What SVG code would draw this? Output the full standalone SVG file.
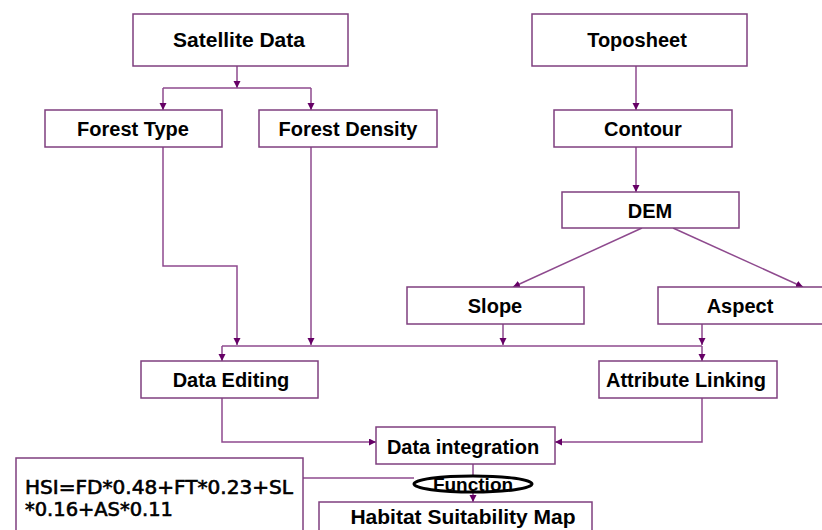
<svg xmlns="http://www.w3.org/2000/svg" width="822" height="530" viewBox="0 0 822 530">
<defs>
<style>
.box{fill:#fff;stroke:#7f3f7f;stroke-width:1.5}
.lbl{font-family:"Liberation Sans",Arial,sans-serif;font-weight:bold;font-size:20px;fill:#000;text-anchor:middle}
.ln{fill:none;stroke:#8e4a8e;stroke-width:1.5}
.arr{marker-end:url(#ah)}
.hsi{font-family:"DejaVu Sans",Tahoma,sans-serif;font-size:19px;fill:#000;stroke:#000;stroke-width:0.6}
</style>
<marker id="ah" markerWidth="8" markerHeight="8" refX="7" refY="3.5" orient="auto" markerUnits="userSpaceOnUse">
<path d="M0,0 L7,3.5 L0,7 z" fill="#660066"/>
</marker>
</defs>
<rect width="822" height="530" fill="#fff"/>
<g id="connectors">
<path class="ln arr" d="M237,66 V88"/>
<path class="ln" d="M163,88 H311"/>
<path class="ln arr" d="M163,88 V110"/>
<path class="ln arr" d="M311,88 V110"/>
<path class="ln arr" d="M636,66 V110"/>
<path class="ln arr" d="M636,147 V192"/>
<path class="ln arr" d="M642,228 L513,287"/>
<path class="ln arr" d="M673,228 L803,287"/>
<path class="ln arr" d="M163,147 V266 H237 V345"/>
<path class="ln arr" d="M311,147 V345"/>
<path class="ln arr" d="M503,324 V345"/>
<path class="ln arr" d="M702,324 V345"/>
<path class="ln" d="M222,346 H702"/>
<path class="ln arr" d="M222,346 V361"/>
<path class="ln arr" d="M702,346 V361"/>
<path class="ln arr" d="M222,398 V442 H376"/>
<path class="ln arr" d="M702,398 V442 H555"/>
<path class="ln" d="M473,464 V477"/>
<path class="ln arr" d="M473,491 V502"/>
<path class="ln" d="M303,478 H414"/>
</g>
<g id="satellite"><rect class="box" x="133" y="14" width="215" height="52"/><text class="lbl" x="239" y="47" style="font-size:21px">Satellite Data</text></g>
<g id="toposheet"><rect class="box" x="532" y="14" width="215" height="52"/><text class="lbl" x="637" y="47">Toposheet</text></g>
<g id="forest-type"><rect class="box" x="45" y="110" width="177" height="37"/><text class="lbl" x="133" y="136">Forest Type</text></g>
<g id="forest-density"><rect class="box" x="259" y="110" width="178" height="37"/><text class="lbl" x="348" y="136">Forest Density</text></g>
<g id="contour"><rect class="box" x="554" y="110" width="178" height="37"/><text class="lbl" x="643" y="136">Contour</text></g>
<g id="dem"><rect class="box" x="562" y="192" width="177" height="36"/><text class="lbl" x="650" y="218">DEM</text></g>
<g id="slope"><rect class="box" x="407" y="287" width="177" height="37"/><text class="lbl" x="495" y="313">Slope</text></g>
<g id="aspect"><rect class="box" x="658" y="287" width="166" height="37"/><text class="lbl" x="740" y="313">Aspect</text></g>
<g id="data-editing"><rect class="box" x="141" y="361" width="177" height="37"/><text class="lbl" x="231" y="387">Data Editing</text></g>
<g id="attribute-linking"><rect class="box" x="599" y="361" width="178" height="37"/><text class="lbl" x="686" y="387">Attribute Linking</text></g>
<g id="data-integration"><rect class="box" x="376" y="427" width="179" height="37"/><text class="lbl" x="463" y="454">Data integration</text></g>
<g id="function"><ellipse cx="473" cy="484" rx="59" ry="8" fill="#fff" stroke="#000" stroke-width="3"/><text class="lbl" x="473" y="491" style="font-size:19px">Function</text></g>
<g id="hsi"><rect class="box" x="16" y="458" width="287" height="80"/><text class="hsi" x="25" y="494" textLength="268" lengthAdjust="spacingAndGlyphs">HSI=FD*0.48+FT*0.23+SL</text><text class="hsi" x="25" y="516" textLength="148" lengthAdjust="spacingAndGlyphs">*0.16+AS*0.11</text></g>
<g id="habitat"><rect class="box" x="319" y="502" width="273" height="40"/><text class="lbl" x="463" y="524" style="font-size:21px">Habitat Suitability Map</text></g>
</svg>
